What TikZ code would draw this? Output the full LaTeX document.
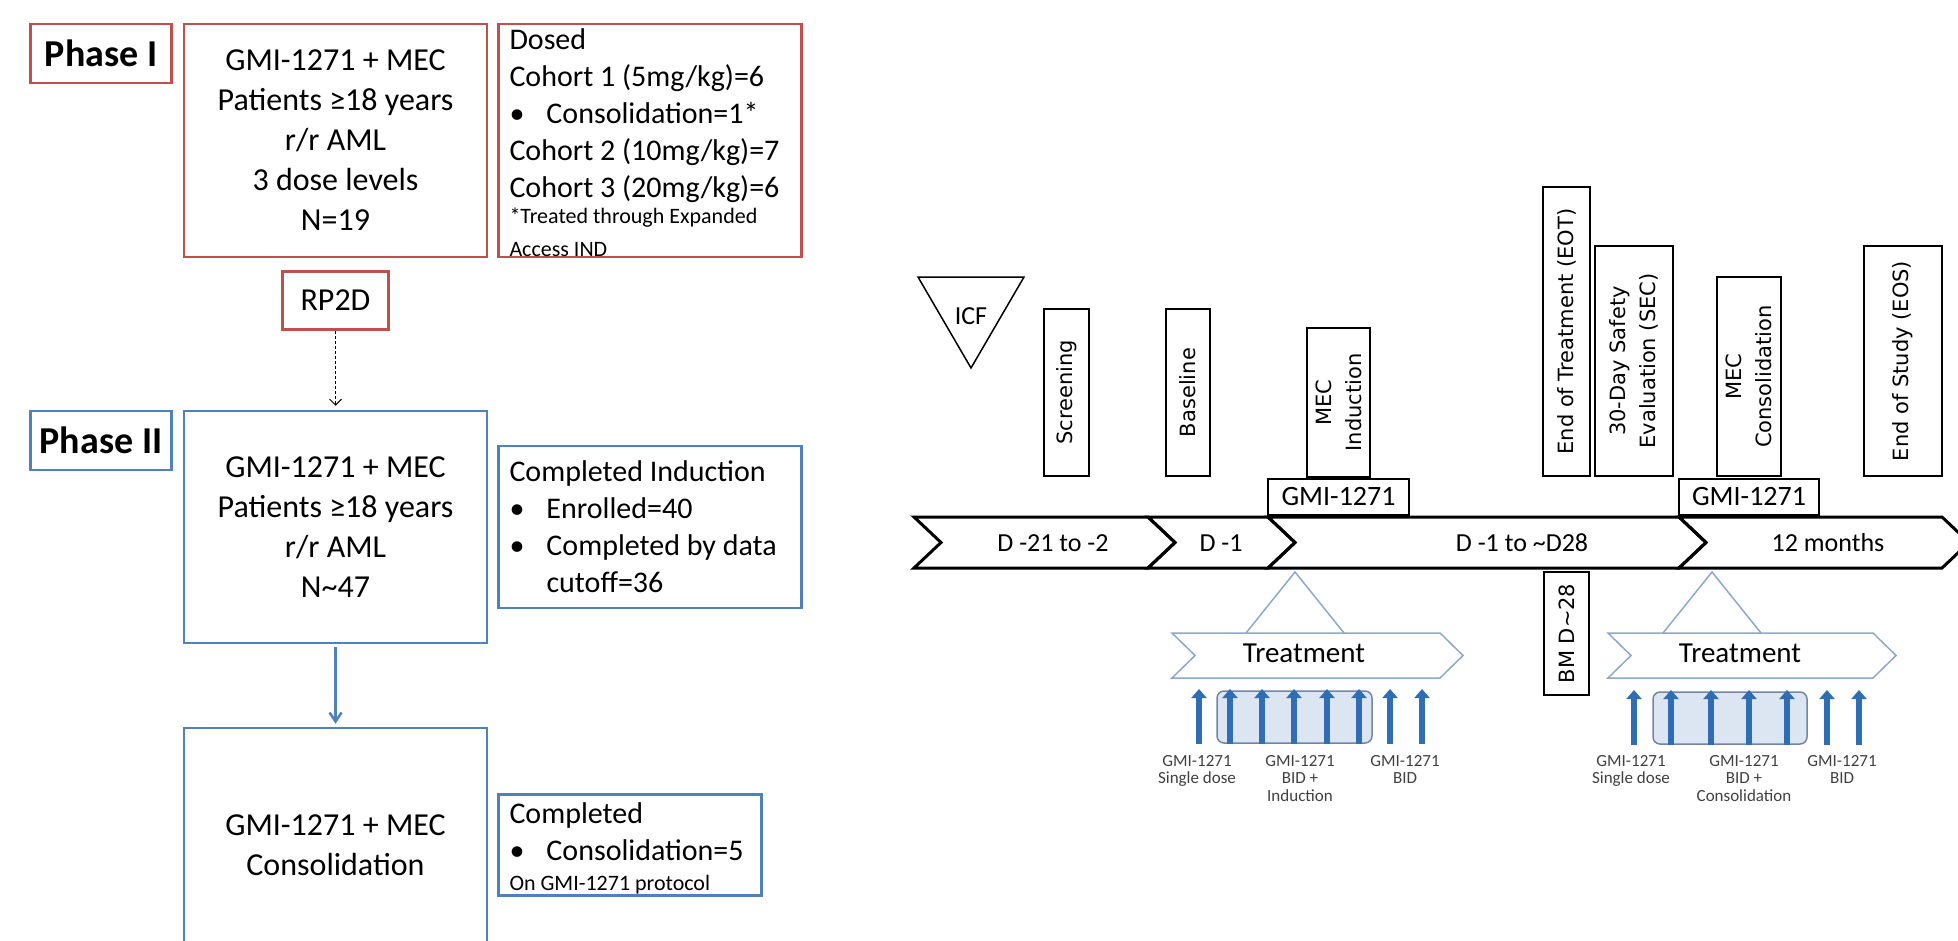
\documentclass[tikz,border=0pt]{standalone}
\usepackage{fontspec}
\setmainfont{Carlito}
\newfontfamily\vfont{DejaVu Sans}
\usetikzlibrary{positioning, arrows.meta}
\definecolor{phred}{HTML}{C0504D}
\definecolor{phblue}{HTML}{4F81BD}
\definecolor{dblue}{HTML}{2F6DB5}
\definecolor{lblue}{HTML}{DCE6F2}
\definecolor{tline}{HTML}{8EA8CB}
\newcommand{\fn}{\fontsize{22}{29}\selectfont}
\newcommand{\bul}{\makebox[37pt][l]{•}}

\begin{document}
\begin{tikzpicture}[x=1pt, y=-1pt,
  lab/.style={draw, line width=2.5pt, minimum width=141pt, minimum height=59pt, inner sep=0pt, font=\bfseries\fontsize{38}{44}\selectfont},
  mb/.style={draw, line width=2.5pt, minimum width=303pt, align=center, inner sep=0pt, font=\fontsize{32}{40}\selectfont},
  ib/.style={draw, line width=2.5pt, inner xsep=11pt, inner ysep=0pt, align=flush left, font={\fontsize{30}{37}\selectfont\setlength{\parindent}{0pt}}},
  vb/.style={draw, line width=2pt, rotate=90, inner sep=0pt, align=center, font=\vfont\fontsize{21}{30}\selectfont},
  gb/.style={draw, line width=2pt, minimum height=36pt, inner sep=0pt, font=\fontsize{28}{32}\selectfont},
  tl/.style={font=\fontsize{26}{30}\selectfont},
  seg/.style={line width=3pt, line join=miter},
  tr/.style={draw=tline, line width=1.5pt, fill=white},
  up/.style={dblue, line width=6pt, -{Triangle[length=9pt, width=15pt]}},
  sm/.style={align=center, inner sep=0pt, text=black!75, font=\fontsize{17}{17.5}\selectfont},
  node distance=9pt]
\fill[white] (0,0) rectangle (1958,941);
\useasboundingbox (0,0) rectangle (1958,941);
\clip (0,0) rectangle (1958,941);

% phase I
\node[mb, draw=phred, minimum height=233pt] (m1) at (335.5,140.5) {GMI-1271 + MEC\\Patients ≥18 years\\r/r AML\\3 dose levels\\N=19};
\node[lab, draw=phred, left=10pt of m1.north west, anchor=north east] (p1) {Phase I};
\node[ib, draw=phred, text width=281pt, text height=26pt, text depth=207pt, right=of m1] (d1) {Dosed\par
Cohort 1 (5mg/kg)=6\par
\bul Consolidation=1*\par
Cohort 2 (10mg/kg)=7\par
Cohort 3 (20mg/kg)=6\par
\vspace{-3pt}\fn *Treated through Expanded\\[-4pt]Access IND};
\node[mb, draw=phred, minimum width=106pt, minimum height=58pt, below=12pt of m1] (rp) {RP2D};

% phase II
\node[mb, draw=phblue, minimum height=232pt] (m2) at (335.5,527) {GMI-1271 + MEC\\Patients ≥18 years\\r/r AML\\N\textasciitilde 47};
\node[lab, draw=phblue, left=10pt of m2.north west, anchor=north east] (p2) {Phase II};
\node[ib, draw=phblue, text width=281pt, minimum height=162pt, right=of m2] (ci) {Completed Induction\par
\bul Enrolled=40\par
\bul Completed by data\newline\hspace*{37pt}cutoff=36};
\node[mb, draw=phblue, minimum height=234pt] (m3) at (335.5,845) {GMI-1271 + MEC\\Consolidation};
\node[ib, draw=phblue, text width=241pt, text height=29pt, text depth=72pt, right=of m3] (cc) {Completed\par
\bul Consolidation=5\par
\vspace{-7pt}\fontsize{22}{26}\selectfont On GMI-1271 protocol};

\draw[densely dashed, line width=1pt, -{Straight Barb[length=6pt]}, shorten >=4pt] (rp) -- (m2);
\draw[phblue, line width=2.5pt, -{Straight Barb[length=9pt, width=12pt]}, shorten <=3pt, shorten >=3pt] (m2) -- (m3);

% timeline
\draw[line width=1.5pt] (918,277) -- (1024,277) -- (971,368) -- cycle;
\node[tl] (icf) at (971,316) {ICF};
\node[vb, minimum width=167pt, minimum height=45pt] (scr) at (1066.5,392.5) {Screening};
\node[vb, minimum width=167pt, minimum height=44pt] (bas) at (1188,392.5) {Baseline};
\node[vb, minimum width=149pt, minimum height=63pt] (ind) at (1338.5,402.5) {MEC\\Induction};
\node[vb, minimum width=289pt, minimum height=47pt] (eot) at (1566.5,331.5) {End of Treatment (EOT)};
\node[vb, minimum width=230pt, minimum height=78pt] (sec) at (1634,361) {30-Day Safety\\Evaluation (SEC)};
\node[vb, minimum width=199pt, minimum height=64pt] (con) at (1749,376.5) {MEC\\Consolidation};
\node[vb, minimum width=230pt, minimum height=78pt] (eos) at (1903,361) {End of Study (EOS)};
\node[gb, minimum width=141pt] (g1) at (1338.5,497) {GMI-1271};
\node[gb, minimum width=140pt] (g2) at (1749,497) {GMI-1271};

\foreach \a/\b in {914/1148, 1148/1268, 1268/1679, 1679/1942}
  \draw[seg] (\a,517) -- (\b,517) -- (\b+27,542.5) -- (\b,568) -- (\a,568) -- (\a+27,542.5) -- cycle;
\node[tl] (s1) at (1053,543) {D -21 to -2};
\node[tl] (s2) at (1221,543) {D -1};
\node[tl] (s3) at (1522,543) {D -1 to \textasciitilde D28};
\node[tl] (s4) at (1828,543) {12 months};

\node[vb, minimum width=123pt, minimum height=45pt] (bm) at (1566.5,633.5) {BM D\textasciitilde 28};

% treatment
\draw[tr] (1246,633) -- (1295,572) -- (1344,633);
\draw[tr] (1172,633) -- (1440,633) -- (1463,655.5) -- (1440,678) -- (1172,678) -- (1195,655.5) -- cycle;
\node[tl, font=\fontsize{29}{32}\selectfont] (tr1) at (1304,653) {Treatment};
\draw[tr] (1663,633) -- (1712,572) -- (1761,633);
\draw[tr] (1608,633) -- (1873,633) -- (1896,655.5) -- (1873,678) -- (1608,678) -- (1631,655.5) -- cycle;
\node[tl, font=\fontsize{29}{32}\selectfont] (tr2) at (1740,653) {Treatment};

\draw[draw=tline!80!black, fill=lblue, line width=1.5pt, rounded corners=7pt] (1217,691) rectangle (1372,743);
\draw[draw=tline!80!black, fill=lblue, line width=1.5pt, rounded corners=7pt] (1653,692) rectangle (1807,744);
\foreach \x in {1199,1230,1262,1294,1327,1359,1390,1422}
  \draw[up] (\x,744) -- (\x,689);
\foreach \x in {1634,1671,1711,1749,1787,1827,1859}
  \draw[up] (\x,745) -- (\x,690);

\node[sm, anchor=north] (l1) at (1197,755) {GMI-1271\\Single dose};
\node[sm, anchor=north] (l2) at (1300,755) {GMI-1271\\BID +\\Induction};
\node[sm, anchor=north] (l3) at (1405,755) {GMI-1271\\BID};
\node[sm, anchor=north] (r1) at (1631,755) {GMI-1271\\Single dose};
\node[sm, anchor=north] (r2) at (1744,755) {GMI-1271\\BID +\\Consolidation};
\node[sm, anchor=north] (r3) at (1842,755) {GMI-1271\\BID};
\end{tikzpicture}
\end{document}
